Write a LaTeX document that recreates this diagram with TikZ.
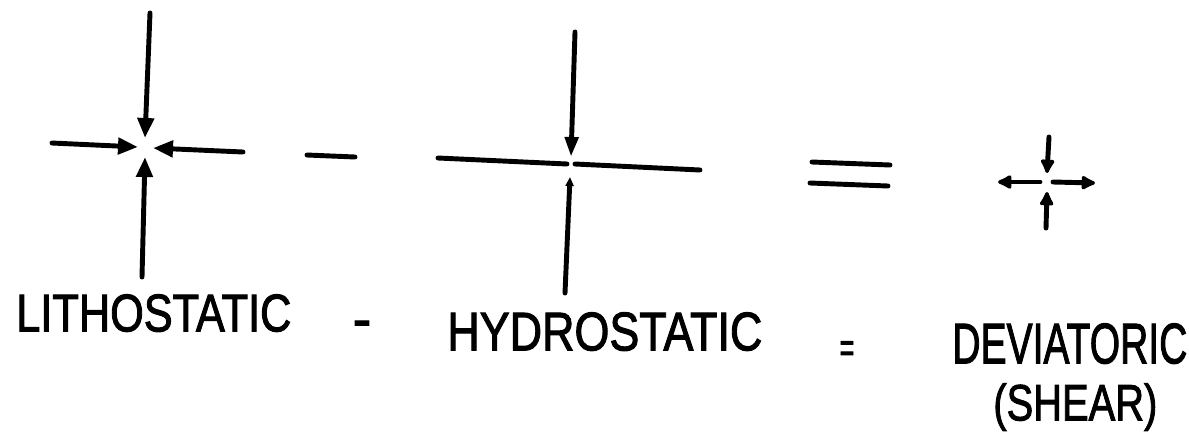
\documentclass[tikz,border=0pt]{standalone}
\usepackage{fontspec}
\setmainfont{Liberation Sans}[FakeBold=2]
\usetikzlibrary{arrows.meta}
\begin{document}
\begin{tikzpicture}[x=0.02cm,y=-0.02cm,
  stroke/.style={line width=2.8pt, line cap=round},
  inarrow/.style={stroke, -{Triangle[length=0.40cm,width=0.32cm]}},
  bigarrow/.style={stroke, -{Triangle[length=0.40cm,width=0.26cm]}},
  tinyarrow/.style={stroke, -{Triangle[length=0.18cm,width=0.16cm]}},
  outarrow/.style={stroke, -{Latex[round,length=0.34cm,width=0.34cm]}},
  txt/.style={inner sep=0pt, anchor=north west},
  sym/.style={inner sep=0pt, anchor=base}]
\useasboundingbox[fill=white] (0,0) rectangle (1189,444);

% ---- lithostatic cross
\coordinate (c1) at (145,148);
\draw[inarrow] (150,13) -- (145,138);
\draw[inarrow] (52,143) -- (138,147);
\draw[inarrow] (243,152) -- (153,148);
\draw[inarrow] (142,277) -- (145,157);

% ---- minus (large)
\draw[stroke] (307,155) -- (355,157);

% ---- hydrostatic cross
\coordinate (c2) at (571,164);
\draw[bigarrow] (575,32) -- (571,157);
\draw[stroke] (438,158) -- (567,164);
\draw[stroke] (575,164) -- (700,170);
\draw[tinyarrow] (565,293) -- (570,177);

% ---- equals (large)
\draw[stroke] (812,162) -- (890,165);
\draw[stroke] (810,183) -- (888,186);

% ---- deviatoric cross
\coordinate (c3) at (1047,183);
\draw[outarrow] (1049,137) -- (1047,173);
\draw[outarrow] (1040,182) -- (998,182);
\draw[outarrow] (1053,182) -- (1095,183);
\draw[outarrow] (1046,228) -- (1047,192);

% ---- labels
\node[txt] (litho) at (16,294) {\resizebox{5.50cm}{0.74cm}{LITHOSTATIC}};
\node[sym, font=\fontsize{32}{32}\selectfont] (minus) at (362,338) {-};
\node[txt] (hydro) at (447,312) {\resizebox{6.30cm}{0.76cm}{HYDROSTATIC}};
\node[sym, font=\fontsize{24}{24}\selectfont, xscale=0.6, transform shape] (equal) at (847,362) {=};
\node[txt] (devi) at (952,323) {\resizebox{4.70cm}{0.80cm}{DEVIATORIC}};
\node[txt] (shear) at (993,383) {\resizebox{3.28cm}{0.74cm}{(SHEAR)}};
\end{tikzpicture}
\end{document}
